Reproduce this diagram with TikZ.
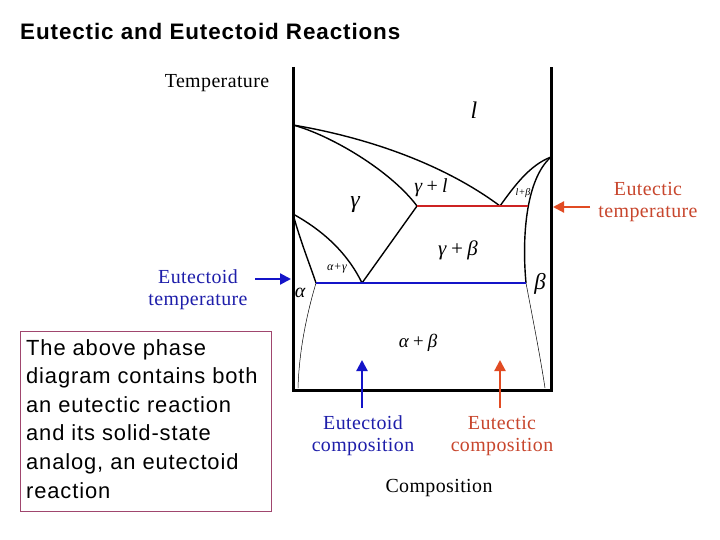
\documentclass[tikz,border=0pt]{standalone}
\usepackage{fontspec}
\setmainfont{Liberation Serif}
\newfontfamily\sansls[LetterSpace=4]{Liberation Sans}
\newfontfamily\serifls[LetterSpace=2]{Liberation Serif}
\usetikzlibrary{arrows.meta}
\definecolor{eblue}{RGB}{20,20,200}
\definecolor{ebluetxt}{RGB}{30,30,170}
\definecolor{ered}{RGB}{205,35,35}
\definecolor{eorange}{RGB}{225,75,35}
\definecolor{eorangetxt}{RGB}{200,70,45}
\definecolor{boxc}{RGB}{160,70,110}
\begin{document}
\begin{tikzpicture}[x=1bp,y=-1bp,
  axisline/.style={line width=3bp,black},
  phaseline/.style={line width=1.4bp,black},
  thinline/.style={line width=0.5bp,black},
  tiearrow/.style={line width=2.2bp,-{Triangle[length=11bp,width=11bp]}},
  lbl/.style={inner sep=0pt,font=\fontsize{20}{22}\serifls},
  grk/.style={inner sep=0pt,font=\fontsize{#1}{#1}\serifls\itshape},
  grk/.default=18,
  note/.style={inner sep=0pt,align=center,font=\fontsize{20}{22}\serifls}]
\useasboundingbox (0,0) rectangle (720,540);
\fill[white] (0,0) rectangle (720,540);

% key points
\coordinate (axtopL) at (293,67);
\coordinate (axbotL) at (293,390);
\coordinate (axbotR) at (551,390);
\coordinate (axtopR) at (551,67);
\coordinate (A) at (293,125);
\coordinate (E) at (500,206);
\coordinate (G) at (417,206);
\coordinate (B) at (528,206);
\coordinate (M) at (551,157);
\coordinate (C) at (293,214);
\coordinate (P) at (316,283);
\coordinate (D) at (362,283);
\coordinate (Q) at (526,283);
\coordinate (Pb) at (298,388);
\coordinate (Qb) at (545,388);

% title
\node[anchor=west,inner sep=0pt,font=\fontsize{22.5}{26}\sansls\bfseries] (title) at (20,31) {Eutectic and Eutectoid Reactions};

% axes
\draw[axisline] (axtopL) -- (axbotL) -- (axbotR) -- (axtopR);

% phase boundaries
\draw[phaseline] (A) .. controls (370,138) and (445,165) .. (E);
\draw[phaseline] (A) .. controls (330,135) and (390,170) .. (G);
\draw[phaseline] (E) .. controls (515,185) and (530,165) .. (M);
\draw[phaseline] (M) .. controls (525,180) and (522,240) .. (Q);
\draw[phaseline] (C) .. controls (300,240) and (310,265) .. (P);
\draw[phaseline] (C) .. controls (322,230) and (347,252) .. (D);
\draw[phaseline] (D) -- (G);
\draw[thinline] (P) .. controls (305,320) and (299,355) .. (Pb);
\draw[thinline] (Q) .. controls (533,320) and (540,355) .. (Qb);

% reaction isotherms
\draw[ered,line width=2.2bp] (G) -- (B);
\draw[eblue,line width=2.2bp] (P) -- (Q);

% phase labels
\node[lbl] (tlabel) at (217,83) {Temperature};
\node[grk=24] (liq) at (474,110) {l};
\node[grk=24] (gam) at (355,205) {γ};
\node[grk=20] (gl) at (431,188) {γ\,+\,l};
\node[grk=10] (lb) at (523,193) {l+β};
\node[grk=21] (gb) at (458,250) {γ\,+\,β};
\node[grk=12] (ag) at (337,268) {α+γ};
\node[grk=20] (al) at (300,293) {α};
\node[grk=23] (be) at (540,284) {β};
\node[grk=19] (ab) at (418,343) {α\,+\,β};

% side labels and arrows
\node[note,text=ebluetxt] (etemp) at (198,290) {Eutectoid\\temperature};
\coordinate (etempstart) at (255,279);
\coordinate (etempend) at (291,279);
\draw[tiearrow,eblue] (etempstart) -- (etempend);

\node[note,text=eorangetxt] (ectemp) at (648,202) {Eutectic\\temperature};
\coordinate (ectempstart) at (590,207);
\coordinate (ectempend) at (553,207);
\draw[tiearrow,eorange] (ectempstart) -- (ectempend);

\node[note,text=ebluetxt] (ecomp) at (363,436) {Eutectoid\\composition};
\coordinate (ecompstart) at (362,408);
\coordinate (ecompend) at (362,360);
\draw[tiearrow,eblue] (ecompstart) -- (ecompend);

\node[note,text=eorangetxt] (eccomp) at (502,436) {Eutectic\\composition};
\coordinate (eccompstart) at (500,408);
\coordinate (eccompend) at (500,360);
\draw[tiearrow,eorange] (eccompstart) -- (eccompend);

\node[lbl] (comp) at (439,488) {Composition};

% text box
\draw[boxc,line width=1bp] (20,331) rectangle (271,511);
\node[anchor=north west,inner sep=0pt,align=left,font=\fontsize{22}{28.7}\sansls] (boxtext) at (26,339)
  {The above phase\\diagram contains both\\an eutectic reaction\\and its solid-state\\analog, an eutectoid\\reaction};
\end{tikzpicture}
\end{document}
